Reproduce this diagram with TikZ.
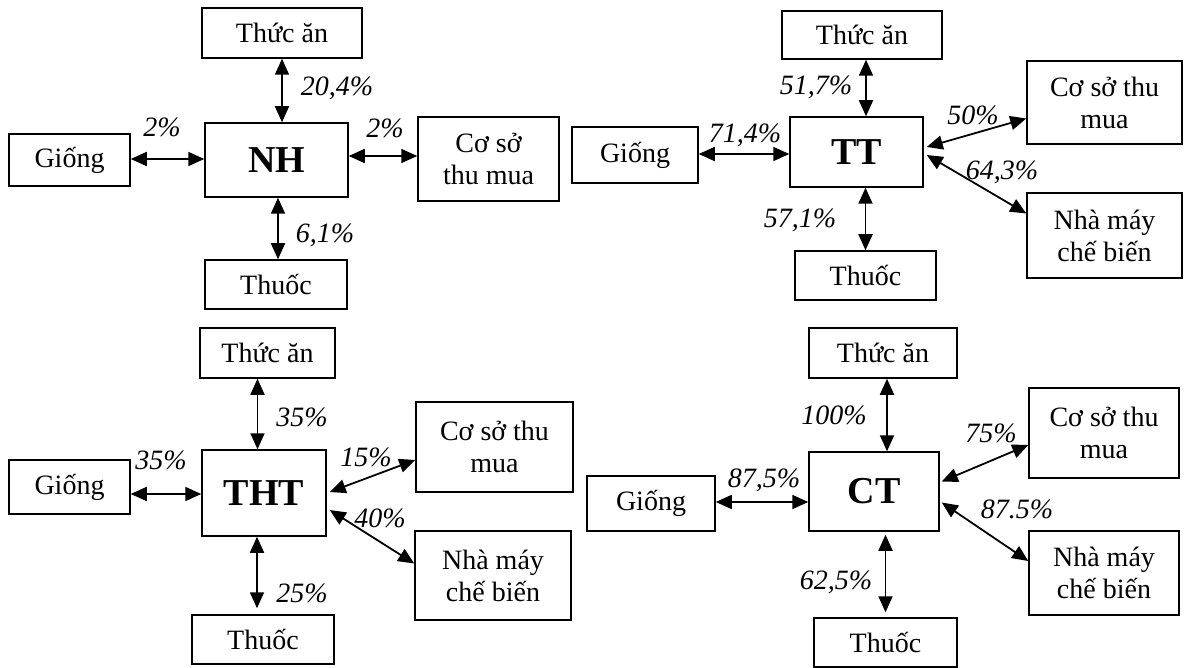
\documentclass[tikz,border=0pt]{standalone}
\usepackage{fontspec}
\setmainfont{Liberation Serif}
\usetikzlibrary{arrows.meta,calc}
\begin{document}
\begin{tikzpicture}[x=1pt,y=-1pt,
  box/.style={draw,line width=1.5pt,inner sep=0pt,align=center,font=\fontsize{28}{32}\selectfont},
  hub/.style={draw,line width=1.5pt,inner sep=0pt,font=\fontsize{38}{42}\selectfont\bfseries},
  pct/.style={font=\fontsize{28}{31}\selectfont\itshape,inner sep=0pt},
  link/.style={{Triangle[length=16pt,width=14pt]}-{Triangle[length=16pt,width=14pt]},line width=1.8pt}]
\useasboundingbox (0,0) rectangle (1186,668);

% ---------- NH ----------
\node[hub,minimum width=143pt,minimum height=74pt] (n1) at (276.5,160) {NH};
\node[box,minimum width=160pt,minimum height=50pt] (n1t) at (282,33) {Thức ăn};
\node[box,minimum width=121pt,minimum height=52pt] (n1g) at (69.5,160) {Giống};
\node[box,minimum width=141pt,minimum height=84pt] (n1c) at (488.5,159) {Cơ sở\\thu mua};
\node[box,minimum width=142pt,minimum height=49pt] (n1b) at (276,284.5) {Thuốc};
\draw[link] (n1t.south) -- (n1t.south |- n1.north);
\draw[link] ([xshift=2pt]n1b.north) -- ([xshift=2pt]n1b.north |- n1.south);
\draw[link] ([yshift=1pt]n1g.east) -- ([yshift=1pt]n1g.east -| n1.west);
\draw[link] ([yshift=3pt]n1c.west -| n1.east) -- ([yshift=3pt]n1c.west);
\node[pct] (l11) at (337,88) {20,4\%};
\node[pct] (l12) at (162,127) {2\%};
\node[pct] (l13) at (385,128) {2\%};
\node[pct] (l14) at (325,235) {6,1\%};

% ---------- TT ----------
\node[hub,minimum width=133pt,minimum height=70pt] (n2) at (856.5,152) {TT};
\node[box,minimum width=160pt,minimum height=48pt] (n2t) at (862,35) {Thức ăn};
\node[box,minimum width=126pt,minimum height=56pt] (n2g) at (635,155) {Giống};
\node[box,minimum width=155pt,minimum height=83pt] (n2c) at (1104.5,102.5) {Cơ sở thu\\mua};
\node[box,minimum width=155pt,minimum height=85pt] (n2m) at (1104.5,235.5) {Nhà máy\\chế biến};
\node[box,minimum width=141pt,minimum height=49pt] (n2b) at (865.5,275.5) {Thuốc};
\draw[link] ([xshift=4pt]n2t.south) -- ([xshift=4pt]n2t.south |- n2.north);
\draw[link] (n2b.north) -- (n2b.north |- n2.south);
\draw[link] ([yshift=1pt]n2g.east) -- ([yshift=1pt]n2g.east -| n2.west);
\draw[link] ([xshift=3pt,yshift=5pt]n2.east) -- ([yshift=-16pt]n2c.west);
\draw[link] ([xshift=3pt,yshift=-3pt]n2.east) -- ([yshift=22pt]n2m.west);
\node[pct] (l21) at (816,87) {51,7\%};
\node[pct] (l22) at (745,135) {71,4\%};
\node[pct] (l23) at (800,220) {57,1\%};
\node[pct] (l24) at (973,115) {50\%};
\node[pct] (l25) at (1002,172) {64,3\%};

% ---------- THT ----------
\node[hub,minimum width=124pt,minimum height=86pt] (n3) at (264,493) {THT};
\node[box,minimum width=135pt,minimum height=50pt] (n3t) at (267.5,353) {Thức ăn};
\node[box,minimum width=121pt,minimum height=54pt] (n3g) at (69.5,487) {Giống};
\node[box,minimum width=157pt,minimum height=90pt] (n3c) at (494.5,447) {Cơ sở thu\\mua};
\node[box,minimum width=156pt,minimum height=89pt] (n3m) at (493,575.5) {Nhà máy\\chế biến};
\node[box,minimum width=142pt,minimum height=49pt] (n3b) at (263,639.5) {Thuốc};
\draw[link] ([xshift=-10pt]n3t.south) -- ([xshift=-10pt]n3t.south |- n3.north);
\draw[link,shorten <=6pt] ([xshift=-6pt]n3b.north) -- ([xshift=-6pt]n3b.north |- n3.south);
\draw[link] ([yshift=-7pt]n3g.east) -- ([yshift=-7pt]n3g.east -| n3.west);
\draw[link] ([xshift=3pt,yshift=1pt]n3.east) -- ([yshift=-13pt]n3c.west);
\draw[link] ([xshift=3pt,yshift=-17pt]n3.east) -- ([yshift=12pt]n3m.west);
\node[pct] (l31) at (302,417) {35\%};
\node[pct] (l32) at (161,460) {35\%};
\node[pct] (l33) at (366,457) {15\%};
\node[pct] (l34) at (380,518) {40\%};
\node[pct] (l35) at (302,593) {25\%};

% ---------- CT ----------
\node[hub,minimum width=130pt,minimum height=79pt] (n4) at (874,491.5) {CT};
\node[box,minimum width=148pt,minimum height=50pt] (n4t) at (883,353) {Thức ăn};
\node[box,minimum width=128pt,minimum height=55pt] (n4g) at (651,503.5) {Giống};
\node[box,minimum width=150pt,minimum height=90pt] (n4c) at (1104,433) {Cơ sở thu\\mua};
\node[box,minimum width=150pt,minimum height=84pt] (n4m) at (1104,573) {Nhà máy\\chế biến};
\node[box,minimum width=143pt,minimum height=49pt] (n4b) at (885.5,642.5) {Thuốc};
\draw[link] ([xshift=4pt]n4t.south) -- ([xshift=4pt]n4t.south |- n4.north);
\draw[link,shorten <=5pt,shorten >=3pt] (n4b.north) -- (n4b.north |- n4.south);
\draw[link] ([yshift=1.5pt]n4g.east) -- ([yshift=1.5pt]n4g.east -| n4.west);
\draw[link] ([xshift=2pt,yshift=10pt]n4.east) -- ([yshift=-12pt]n4c.west);
\draw[link] ([xshift=2pt,yshift=-11pt]n4.east) -- ([yshift=12pt]n4m.west);
\node[pct] (l41) at (834,415) {100\%};
\node[pct] (l42) at (764,480) {87,5\%};
\node[pct] (l43) at (991,433) {75\%};
\node[pct] (l44) at (1017,509) {87.5\%};
\node[pct] (l45) at (836,582) {62,5\%};
\end{tikzpicture}
\end{document}
